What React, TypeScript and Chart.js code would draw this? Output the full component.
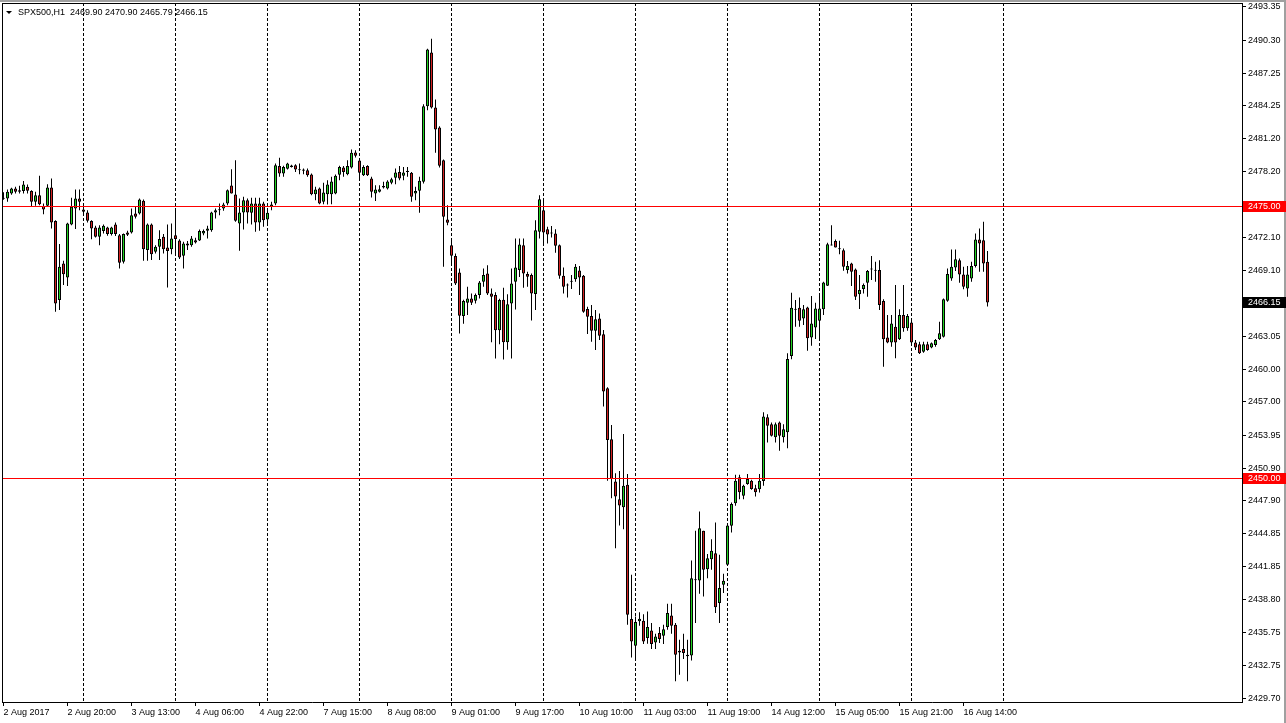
import React, { useEffect, useRef } from "react";
import { Chart, registerables } from "chart.js";

Chart.register(...registerables);

const symbolTitle = "SPX500,H1";

const opens = [
  2475.8, 2475.73, 2476.19, 2476.65, 2476.34, 2476.4, 2476.8, 2476.4, 2475.42, 2476.03,
  2475.02, 2475.05, 2476.74, 2473.64, 2466.38, 2469.75, 2468.46, 2473.33, 2474.81, 2475.73,
  2474.71, 2474.44, 2473.64, 2473.06, 2472.2, 2472.72, 2473.06, 2472.45, 2473.33, 2472.35,
  2469.9, 2472.6, 2472.6, 2474.35, 2474.35, 2475.51, 2470.98, 2473.33, 2470.82, 2471.28,
  2472.2, 2471.22, 2471.04, 2472.35, 2471.86, 2470.45, 2471.4, 2471.43, 2471.89, 2471.86,
  2472.51, 2472.75, 2472.81, 2474.44, 2474.65, 2474.81, 2475.27, 2476.92, 2476.09, 2473.43,
  2474.44, 2475.57, 2474.41, 2475.27, 2473.52, 2475.27, 2473.79, 2474.96, 2475.27, 2478.7,
  2478.02, 2478.45, 2478.76, 2478.79, 2478.39, 2478.39, 2478.33, 2477.93, 2476.12, 2476.64,
  2475.42, 2476.12, 2476.12, 2476.18, 2477.9, 2478.57, 2477.96, 2478.57, 2479.95, 2479.22,
  2477.87, 2478.7, 2477.56, 2476.18, 2476.34, 2476.74, 2476.64, 2477.16, 2477.62, 2478.17,
  2477.81, 2478.17, 2478.08, 2476.18, 2476.43, 2477.26, 2484.21, 2489.15, 2484.09, 2482.25,
  2479.25, 2473.79, 2471.43, 2470.42, 2468.92, 2464.9, 2466.13, 2466.53, 2466.32, 2466.84,
  2468.06, 2468.83, 2466.99, 2466.84, 2463.6, 2466.4, 2462.5, 2466.07, 2468.06, 2469.13,
  2471.43, 2468.77, 2468.67, 2466.93, 2472.66, 2474.65, 2472.9, 2472.6, 2472.51, 2471.43,
  2468.61, 2467.76, 2468.06, 2468.28, 2469.1, 2468.61, 2465.55, 2464.91, 2463.56, 2464.69,
  2463.22, 2458.25, 2453.57, 2449.67, 2448.05, 2447.32, 2449.37, 2437.02, 2434.56, 2436.81,
  2436.86, 2435.27, 2435.97, 2434.87, 2435.73, 2435.48, 2436.28, 2437.35, 2436.5, 2434.1,
  2434.26, 2433.74, 2433.68, 2440.6, 2440.57, 2445.14, 2441.61, 2442.53, 2443.08, 2438.49,
  2440.17, 2442.01, 2445.6, 2447.68, 2450.07, 2448.36, 2449.46, 2449.76, 2449.06, 2448.97,
  2449.73, 2455.59, 2454.94, 2453.75, 2455.1, 2453.75, 2454.21, 2461.23, 2465.48, 2465.67,
  2464.69, 2465.7, 2462.94, 2463.86, 2464.48, 2465.52, 2467.69, 2471.49, 2471.8, 2471.13,
  2470.97, 2469.13, 2469.75, 2469.19, 2466.9, 2467.39, 2467.97, 2469.19, 2469.13, 2469.13,
  2466.28, 2462.94, 2462.48, 2463.92, 2462.76, 2464.99, 2463.77, 2464.32, 2462.48, 2462.3,
  2461.62, 2462.3, 2462.02, 2462.24, 2462.76, 2463.0, 2466.31, 2468.37, 2469.38, 2470.05,
  2468.73, 2467.45, 2468.37, 2469.5, 2471.95, 2471.89, 2469.9,
];

const highs = [
  2476.3, 2476.55, 2476.71, 2476.8, 2476.9, 2477.32, 2477.01, 2476.49, 2476.34, 2477.81,
  2475.27, 2477.04, 2477.56, 2473.73, 2471.53, 2469.99, 2473.49, 2475.79, 2476.55, 2476.55,
  2474.96, 2474.65, 2473.73, 2473.21, 2473.27, 2473.33, 2473.12, 2473.12, 2473.52, 2472.45,
  2472.51, 2472.75, 2474.81, 2474.96, 2475.73, 2475.63, 2473.43, 2473.43, 2471.43, 2472.81,
  2472.45, 2473.33, 2473.43, 2474.56, 2471.96, 2471.74, 2471.8, 2472.26, 2472.11, 2472.87,
  2472.87, 2473.21, 2474.5, 2474.81, 2475.27, 2475.33, 2476.55, 2478.42, 2479.25, 2475.73,
  2475.88, 2475.73, 2475.79, 2475.79, 2475.79, 2475.42, 2474.81, 2475.42, 2478.94, 2479.46,
  2478.73, 2479.0, 2478.82, 2478.88, 2478.94, 2478.48, 2478.48, 2478.02, 2476.8, 2476.73,
  2477.16, 2477.41, 2477.72, 2477.93, 2478.73, 2478.7, 2479.25, 2480.23, 2480.17, 2479.31,
  2478.79, 2478.79, 2477.72, 2476.95, 2476.95, 2477.26, 2477.41, 2477.62, 2478.48, 2478.7,
  2478.63, 2478.63, 2478.17, 2476.8, 2477.72, 2484.4, 2489.51, 2490.43, 2484.83, 2482.37,
  2479.31, 2475.11, 2472.04, 2470.67, 2469.29, 2466.4, 2467.6, 2466.99, 2466.99, 2468.12,
  2469.29, 2469.59, 2467.45, 2467.1, 2466.5, 2467.5, 2466.9, 2469.29, 2472.04, 2472.04,
  2472.04, 2468.98, 2468.83, 2473.73, 2476.03, 2475.72, 2473.12, 2473.18, 2472.9, 2471.49,
  2469.38, 2467.91, 2468.68, 2469.69, 2469.5, 2468.68, 2465.76, 2465.92, 2465.46, 2465.15,
  2463.62, 2458.35, 2454.88, 2450.44, 2450.65, 2454.06, 2450.38, 2441.09, 2437.26, 2437.66,
  2437.47, 2437.72, 2436.65, 2435.67, 2436.28, 2436.5, 2438.42, 2438.42, 2436.65, 2435.12,
  2435.67, 2435.12, 2442.41, 2445.14, 2446.92, 2445.14, 2443.02, 2444.37, 2445.9, 2442.93,
  2441.18, 2445.69, 2447.74, 2450.29, 2450.29, 2449.37, 2450.38, 2449.83, 2449.37, 2450.38,
  2456.05, 2455.86, 2455.1, 2455.1, 2455.19, 2454.94, 2461.47, 2467.05, 2466.38, 2466.62,
  2465.92, 2465.76, 2466.74, 2466.13, 2466.74, 2468.06, 2471.65, 2473.27, 2471.95, 2471.83,
  2471.13, 2469.96, 2469.81, 2469.29, 2468.67, 2467.91, 2469.13, 2470.42, 2469.9, 2470.05,
  2466.44, 2464.99, 2464.99, 2467.76, 2465.52, 2467.76, 2465.09, 2464.53, 2462.7, 2462.55,
  2462.55, 2462.55, 2462.48, 2462.79, 2464.38, 2466.53, 2469.29, 2471.03, 2471.03, 2470.21,
  2469.44, 2469.5, 2469.9, 2472.5, 2472.96, 2473.58, 2470.9,
];

const lows = [
  2475.6, 2475.42, 2476.06, 2476.19, 2476.19, 2476.19, 2476.19, 2475.02, 2475.05, 2475.11,
  2474.28, 2474.96, 2472.97, 2465.3, 2465.46, 2467.76, 2467.67, 2473.27, 2472.91, 2474.65,
  2474.19, 2473.52, 2471.96, 2472.14, 2471.43, 2472.51, 2472.29, 2472.32, 2472.26, 2469.29,
  2469.75, 2472.26, 2472.51, 2473.89, 2474.25, 2469.99, 2469.99, 2470.06, 2470.67, 2470.06,
  2470.67, 2467.54, 2470.58, 2470.52, 2470.15, 2469.29, 2470.98, 2471.28, 2471.59, 2471.8,
  2472.35, 2472.05, 2472.66, 2473.89, 2474.19, 2474.59, 2475.11, 2476.19, 2473.58, 2470.91,
  2472.87, 2473.43, 2473.33, 2472.66, 2472.75, 2473.12, 2473.43, 2474.65, 2475.11, 2477.72,
  2477.72, 2478.39, 2478.57, 2478.17, 2477.96, 2477.96, 2477.72, 2476.03, 2475.57, 2475.2,
  2475.2, 2475.17, 2475.2, 2476.12, 2477.41, 2477.72, 2477.87, 2478.48, 2479.49, 2477.41,
  2477.78, 2477.78, 2475.82, 2475.48, 2476.27, 2476.64, 2476.55, 2477.04, 2477.04, 2477.41,
  2477.41, 2477.72, 2475.42, 2475.57, 2474.41, 2477.1, 2483.85, 2484.0, 2479.92, 2478.57,
  2469.44, 2473.27, 2469.75, 2467.75, 2463.3, 2464.2, 2465.0, 2465.92, 2466.07, 2466.53,
  2467.6, 2466.84, 2462.5, 2461.0, 2462.3, 2460.9, 2461.8, 2461.0, 2465.5, 2468.5,
  2467.5, 2467.6, 2464.5, 2465.46, 2472.04, 2471.59, 2471.59, 2472.14, 2470.73, 2468.34,
  2466.99, 2466.62, 2467.39, 2468.06, 2466.84, 2465.21, 2463.25, 2462.55, 2461.78, 2462.7,
  2456.57, 2449.74, 2448.14, 2443.54, 2445.63, 2445.29, 2436.5, 2433.49, 2433.22, 2436.4,
  2434.72, 2434.75, 2434.26, 2434.26, 2434.81, 2434.72, 2436.04, 2435.67, 2431.3, 2431.9,
  2433.34, 2431.3, 2433.22, 2436.65, 2439.35, 2439.1, 2440.78, 2441.55, 2437.57, 2436.65,
  2439.41, 2441.9, 2444.98, 2447.44, 2448.05, 2448.05, 2449.37, 2448.91, 2448.29, 2448.66,
  2449.28, 2453.26, 2453.81, 2453.26, 2452.52, 2453.26, 2452.74, 2460.92, 2463.92, 2463.92,
  2464.08, 2461.72, 2462.18, 2462.79, 2462.85, 2464.99, 2467.66, 2471.4, 2471.22, 2470.6,
  2469.07, 2468.83, 2467.66, 2466.38, 2465.55, 2466.99, 2466.68, 2468.21, 2468.06, 2465.46,
  2460.25, 2462.39, 2462.09, 2461.01, 2462.7, 2463.46, 2463.55, 2462.39, 2461.78, 2461.41,
  2461.53, 2461.72, 2461.93, 2462.09, 2462.7, 2462.94, 2466.22, 2468.15, 2469.04, 2467.97,
  2467.36, 2466.68, 2468.06, 2469.38, 2468.98, 2468.98, 2465.79,
];

const closes = [
  2475.7, 2476.34, 2476.65, 2476.34, 2476.49, 2477.01, 2476.43, 2475.42, 2476.03, 2475.2,
  2474.71, 2476.74, 2473.52, 2466.07, 2469.44, 2468.74, 2473.43, 2474.96, 2475.73, 2475.42,
  2474.5, 2473.67, 2472.97, 2472.2, 2473.06, 2473.21, 2472.45, 2473.06, 2472.45, 2469.81,
  2472.45, 2472.38, 2474.19, 2474.04, 2475.63, 2471.04, 2473.33, 2470.58, 2471.28, 2471.99,
  2471.04, 2470.88, 2472.05, 2471.99, 2470.3, 2471.59, 2471.59, 2472.05, 2471.68, 2472.72,
  2472.72, 2472.97, 2474.44, 2474.65, 2474.66, 2475.17, 2476.49, 2476.19, 2473.67, 2474.44,
  2475.57, 2474.44, 2475.27, 2473.52, 2475.27, 2473.73, 2474.41, 2475.17, 2478.79, 2478.02,
  2478.63, 2478.94, 2478.63, 2478.39, 2478.33, 2478.27, 2477.87, 2476.12, 2476.55, 2475.27,
  2476.27, 2477.01, 2477.29, 2477.81, 2478.63, 2478.17, 2478.7, 2479.92, 2479.65, 2478.08,
  2478.63, 2477.87, 2476.34, 2476.55, 2476.58, 2476.86, 2477.29, 2477.5, 2478.11, 2477.56,
  2478.11, 2478.27, 2475.88, 2476.4, 2477.35, 2484.21, 2489.42, 2484.09, 2482.07, 2478.73,
  2474.04, 2473.49, 2470.45, 2467.91, 2464.93, 2466.28, 2466.53, 2466.13, 2466.84, 2467.99,
  2468.67, 2466.99, 2466.68, 2463.6, 2466.38, 2462.5, 2466.0, 2467.91, 2469.38, 2471.49,
  2468.83, 2468.52, 2466.99, 2472.81, 2475.66, 2472.6, 2472.41, 2472.51, 2471.37, 2468.61,
  2467.6, 2467.72, 2468.09, 2469.44, 2468.46, 2465.3, 2464.85, 2463.56, 2464.6, 2463.1,
  2457.95, 2453.5, 2449.92, 2448.29, 2447.47, 2449.28, 2437.41, 2434.96, 2436.74, 2437.05,
  2434.96, 2436.28, 2434.72, 2435.42, 2435.18, 2436.09, 2437.57, 2436.4, 2433.74, 2433.95,
  2433.89, 2433.59, 2440.78, 2440.66, 2445.38, 2441.55, 2442.62, 2443.3, 2438.12, 2439.87,
  2440.54, 2445.63, 2447.62, 2449.76, 2448.69, 2449.28, 2449.92, 2449.0, 2448.69, 2449.76,
  2455.65, 2454.82, 2453.9, 2454.94, 2453.9, 2454.49, 2460.95, 2465.67, 2465.52, 2464.48,
  2465.52, 2462.85, 2464.23, 2465.61, 2465.61, 2468.0, 2471.52, 2471.4, 2471.22, 2471.04,
  2469.44, 2469.5, 2468.98, 2466.68, 2467.3, 2467.76, 2469.04, 2469.22, 2469.07, 2465.92,
  2462.76, 2462.48, 2464.23, 2462.48, 2464.99, 2463.77, 2464.9, 2462.48, 2462.02, 2461.47,
  2462.3, 2461.78, 2462.39, 2462.7, 2463.31, 2466.44, 2468.77, 2469.44, 2470.12, 2468.73,
  2467.6, 2468.73, 2469.5, 2471.95, 2471.59, 2469.75, 2466.15,
];

const yTickValues = [
  2493.35, 2490.3, 2487.25, 2484.25, 2481.2, 2478.2, 2472.1, 2469.1, 2463.05, 2460.0,
  2457.0, 2453.95, 2450.9, 2447.9, 2444.85, 2441.85, 2438.8, 2435.75, 2432.75, 2429.7,
];

const timeLabels = [
  "2 Aug 2017", "2 Aug 20:00", "3 Aug 13:00", "4 Aug 06:00", "4 Aug 22:00", "7 Aug 15:00",
  "8 Aug 08:00", "9 Aug 01:00", "9 Aug 17:00", "10 Aug 10:00", "11 Aug 03:00", "11 Aug 19:00",
  "14 Aug 12:00", "15 Aug 05:00", "15 Aug 21:00", "16 Aug 14:00",
];
const timeLabelStep = 16;

const gridStart = 20;
const gridStep = 23;
const gridCount = 11;

const priceLevels = [2475.0, 2450.0];

const yMin = 2429.39;
const yMax = 2493.71;
const xMin = -0.375;
const xMax = 309.625;

const FONT = '"Liberation Sans", Arial, sans-serif';
const UP = "#22d322";
const DOWN = "#d32222";

export default function App() {
  const ref = useRef<HTMLCanvasElement | null>(null);

  useEffect(() => {
    document.body.style.margin = "0";
    const canvas = ref.current;
    if (!canvas) return;

    const bodies = opens.map((o, i) => ({ x: i, y: [o, closes[i]] }));
    const wicks = lows.map((l, i) => ({ x: i, y: [l, highs[i]] }));
    const colors = opens.map((o, i) => (closes[i] >= o ? UP : DOWN));
    const lastPrice = closes[closes.length - 1];

    const zeroPad = (axis: any) => {
      axis.paddingTop = 0;
      axis.paddingBottom = 0;
      axis.paddingLeft = 0;
      axis.paddingRight = 0;
    };

    const overlay = {
      id: "mt4Overlay",
      beforeDraw(chart: any) {
        const { ctx, width, height } = chart;
        ctx.save();
        ctx.fillStyle = "#ffffff";
        ctx.fillRect(0, 0, width, height);
        ctx.fillStyle = "#a0a0a0";
        ctx.fillRect(0, 0, width, 2);
        ctx.fillRect(width - 2, 0, 2, height);
        ctx.restore();
      },
      afterDatasetsDraw(chart: any) {
        const { ctx, chartArea } = chart;
        const ys = chart.scales.y;
        ctx.save();
        ctx.fillStyle = "#ff0000";
        priceLevels.forEach((p) => {
          const y = Math.round(ys.getPixelForValue(p) - 0.5);
          ctx.fillRect(chartArea.left, y, chartArea.right - chartArea.left, 1);
        });
        ctx.restore();
      },
      afterDraw(chart: any) {
        const { ctx, chartArea } = chart;
        const ys = chart.scales.y;
        ctx.save();
        ctx.fillStyle = "#000";
        const L = Math.floor(chartArea.left);
        const T = Math.floor(chartArea.top);
        ctx.fillRect(L, T, Math.round(chartArea.right) - L, 1);
        ctx.fillRect(L, T, 1, Math.round(chartArea.bottom) - T);
        // title
        ctx.beginPath();
        ctx.moveTo(6, 11);
        ctx.lineTo(12, 11);
        ctx.lineTo(9, 14);
        ctx.closePath();
        ctx.fill();
        ctx.font = `9px ${FONT}`;
        ctx.textBaseline = "middle";
        ctx.textAlign = "left";
        const last = opens.length - 1;
        const txt = `${symbolTitle}  ${opens[last].toFixed(2)} ${highs[last].toFixed(2)} ${lows[last].toFixed(2)} ${closes[last].toFixed(2)}`;
        ctx.fillText(txt, 18, 13);
        // price tags
        const tag = (v: number, bg: string) => {
          const y = Math.round(ys.getPixelForValue(v) - 0.5);
          ctx.fillStyle = bg;
          ctx.fillRect(Math.round(chartArea.right) + 1, y - 5, 44, 11);
          ctx.fillStyle = "#fff";
          ctx.fillText(v.toFixed(2), Math.round(chartArea.right) + 6, y + 1);
        };
        tag(priceLevels[0], "#ff0000");
        tag(priceLevels[1], "#ff0000");
        tag(lastPrice, "#000000");
        ctx.restore();
      },
    };

    const chart = new Chart(canvas, {
      type: "bar",
      data: {
        datasets: [
          {
            label: "body",
            data: bodies as any,
            backgroundColor: colors,
            borderColor: "#000",
            borderWidth: 1,
            borderSkipped: false,
            barThickness: 3,
            minBarLength: 1,
            grouped: false,
            inflateAmount: 0,
            order: 0,
          } as any,
          {
            label: "wick",
            data: wicks as any,
            backgroundColor: "#000",
            borderWidth: 0,
            barThickness: 1,
            grouped: false,
            inflateAmount: 0,
            order: 1,
          } as any,
        ],
      },
      plugins: [overlay],
      options: {
        animation: false,
        responsive: false,
        devicePixelRatio: 1,
        layout: { padding: { left: 2, top: 3, right: 0, bottom: 0 } },
        plugins: { legend: { display: false }, tooltip: { enabled: false } },
        scales: {
          x: {
            type: "linear",
            position: "bottom",
            min: xMin,
            max: xMax,
            offset: false,
            afterBuildTicks: (axis: any) => {
              axis.ticks = timeLabels.map((_, k) => ({ value: k * timeLabelStep }));
            },
            afterFit: (axis: any) => {
              axis.height = 21;
              zeroPad(axis);
            },
            ticks: {
              autoSkip: false,
              maxRotation: 0,
              align: "start",
              padding: 1,
              color: "#000",
              font: { family: FONT, size: 9 },
              callback: (v: any) => timeLabels[Math.round(Number(v) / timeLabelStep)] ?? "",
            },
            grid: { offset: false, drawOnChartArea: false, drawTicks: true, tickLength: 4, color: "#000" },
            border: { display: true, color: "#000" },
          },
          x2: {
            type: "linear",
            position: "bottom",
            min: xMin,
            max: xMax,
            offset: false,
            afterBuildTicks: (axis: any) => {
              axis.ticks = Array.from({ length: gridCount }, (_, k) => ({ value: gridStart + k * gridStep }));
            },
            afterFit: (axis: any) => {
              axis.height = 0;
              zeroPad(axis);
            },
            ticks: { display: false },
            grid: { offset: false, drawOnChartArea: true, drawTicks: false, color: "#000", lineWidth: 1 },
            border: { display: false, dash: [3, 2] },
          },
          y: {
            type: "linear",
            position: "right",
            min: yMin,
            max: yMax,
            afterBuildTicks: (axis: any) => {
              axis.ticks = yTickValues.map((v) => ({ value: v }));
            },
            afterFit: (axis: any) => {
              axis.width = 44;
              zeroPad(axis);
            },
            ticks: {
              autoSkip: false,
              padding: 2,
              color: "#000",
              font: { family: FONT, size: 9 },
              callback: (v: any) => Number(v).toFixed(2),
            },
            grid: { offset: false, drawOnChartArea: false, drawTicks: true, tickLength: 4, color: "#000" },
            border: { display: true, color: "#000" },
          },
        },
      } as any,
    });

    return () => chart.destroy();
  }, []);

  return <canvas ref={ref} width={1286} height={723} style={{ display: "block" }} />;
}
